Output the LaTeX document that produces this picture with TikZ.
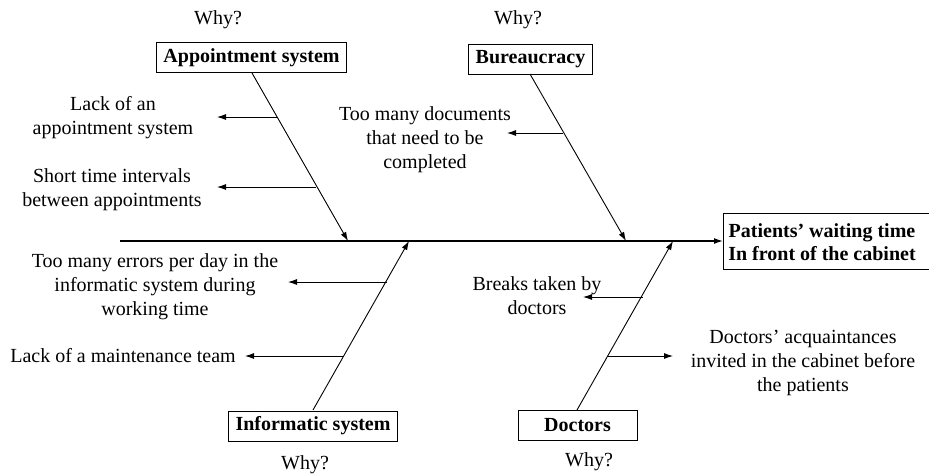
\documentclass[tikz,border=0pt]{standalone}
\usepackage{fontspec}
\setmainfont{Liberation Serif}
\usetikzlibrary{arrows.meta}
\begin{document}
\begin{tikzpicture}[x=1pt,y=-1pt,
  every node/.style={font=\fontsize{20}{24}\selectfont, inner sep=0pt},
  txt/.style={align=center},
  cat/.style={draw, line width=0.9pt, font=\fontsize{20}{24}\selectfont\bfseries, minimum height=30pt, inner xsep=7pt},
  bone/.style={line width=0.9pt, -{Latex[length=9pt,width=6pt]}},
  spine/.style={line width=1.3pt, -{Latex[length=9pt,width=6pt]}}]
\useasboundingbox (0,0) rectangle (929,475);
% effect box (right border falls just outside the picture, as in the reference)
\node[draw, line width=0.9pt, minimum width=212pt, minimum height=56pt, anchor=west] (eff) at (723,241) {};
\node[font=\fontsize{20}{23.5}\selectfont\bfseries, align=center] (efft) at (822,242)
      {Patients’ waiting time\\In front of the cabinet};
% spine
\coordinate (s0) at (120,241);
\draw[spine] (s0) -- (eff.west);
% category boxes
\node[cat] (app) at (251.5,57.5) {Appointment system};
\node[cat] (bur) at (530.5,59) {Bureaucracy};
\node[cat] (inf) at (313,426) {Informatic system};
\node[cat, minimum width=119pt] (doc) at (577.5,425.5) {Doctors};
% why labels
\node (w1) at (218,20) {Why?};
\node (w2) at (518,20) {Why?};
\node (w3) at (305,465) {Why?};
\node (w4) at (589,462) {Why?};
% bones
\coordinate (tapp) at (348,241);
\coordinate (tbur) at (626,241);
\coordinate (tinf) at (409,241);
\coordinate (tdoc) at (673,241);
\coordinate (fapp) at (252,73);
\coordinate (fbur) at (530,74);
\coordinate (finf) at (313,410);
\coordinate (fdoc) at (577,410);
\draw[bone] (fapp) -- (tapp);
\draw[bone] (fbur) -- (tbur);
\draw[bone] (finf) -- (tinf);
\draw[bone] (fdoc) -- (tdoc);
% cause texts
\node[txt] (c1) at (113,118) {Lack of an\\appointment system};
\node[txt] (c2) at (112,190) {Short time intervals\\between appointments};
\node[txt] (c3) at (425,140) {Too many documents\\that need to be\\completed};
\node[txt] (c4) at (155,287) {Too many errors per day in the\\informatic system during\\working time};
\node[txt] (c5) at (123,356) {Lack of a maintenance team};
\node[txt] (c6) at (537,296) {Breaks taken by\\doctors};
\node[txt] (c7) at (803,363) {Doctors’ acquaintances\\invited in the cabinet before\\the patients};
% branch arrows
\coordinate (b1s) at (277,117); \coordinate (b1e) at (217,117);
\coordinate (b2s) at (316,187); \coordinate (b2e) at (217,187);
\coordinate (b3s) at (563,133); \coordinate (b3e) at (507,133);
\coordinate (b4s) at (387,282); \coordinate (b4e) at (288,282);
\coordinate (b5s) at (343,356); \coordinate (b5e) at (245,356);
\coordinate (b6s) at (643,297); \coordinate (b6e) at (583,297);
\coordinate (b7s) at (608,356); \coordinate (b7e) at (673,356);
\foreach \i in {1,...,7} {\draw[bone] (b\i s) -- (b\i e);}
\end{tikzpicture}
\end{document}
